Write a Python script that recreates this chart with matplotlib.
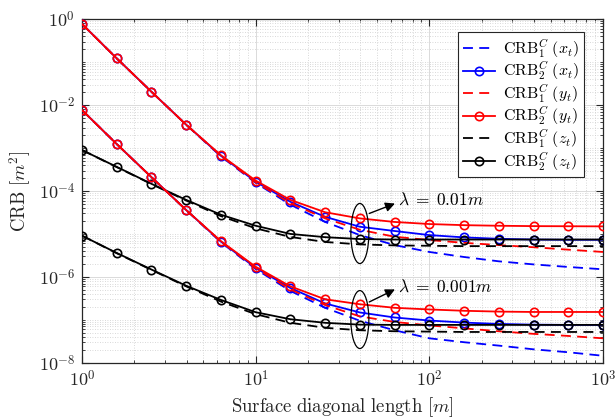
import numpy as np
import matplotlib
matplotlib.use('Agg')
import matplotlib.pyplot as plt
from matplotlib.patches import Ellipse
from matplotlib.ticker import FixedLocator, FixedFormatter, LogLocator, NullFormatter

plt.rcParams['mathtext.fontset'] = 'cm'

# ---------------- data ----------------
L = [1.0, 1.585, 2.512, 3.981, 6.310, 10.0, 15.85, 25.12, 39.81, 63.10,
     100.0, 158.5, 251.2, 398.1, 631.0, 1000.0]

# lambda = 0.01 m
crb1_x_a = [0.78, 0.123, 0.0205, 3.5e-3, 6.4e-4, 1.55e-4, 4.8e-5, 1.9e-5, 9.4e-6, 5.5e-6,
            3.8e-6, 2.9e-6, 2.3e-6, 1.95e-6, 1.7e-6, 1.5e-6]
crb2_x_a = [0.78, 0.123, 0.0205, 3.5e-3, 6.6e-4, 1.65e-4, 5.6e-5, 2.5e-5, 1.47e-5, 1.17e-5,
            9.4e-6, 8.3e-6, 7.7e-6, 7.4e-6, 7.3e-6, 7.3e-6]
crb1_y_a = [0.78, 0.123, 0.0205, 3.5e-3, 6.6e-4, 1.6e-4, 5.2e-5, 2.3e-5, 1.25e-5, 8.6e-6,
            7.2e-6, 6.2e-6, 5.5e-6, 4.9e-6, 4.3e-6, 3.8e-6]
crb2_y_a = [0.78, 0.123, 0.0205, 3.5e-3, 6.8e-4, 1.75e-4, 6.2e-5, 3.2e-5, 2.3e-5, 1.9e-5,
            1.7e-5, 1.6e-5, 1.55e-5, 1.52e-5, 1.51e-5, 1.5e-5]
crb1_z_a = [9.0e-4, 3.6e-4, 1.45e-4, 6.0e-5, 2.6e-5, 1.35e-5, 8.5e-6, 6.5e-6, 5.7e-6, 5.4e-6,
            5.3e-6, 5.2e-6, 5.2e-6, 5.2e-6, 5.2e-6, 5.2e-6]
crb2_z_a = [9.0e-4, 3.65e-4, 1.47e-4, 6.2e-5, 2.8e-5, 1.55e-5, 1.0e-5, 8.4e-6, 7.6e-6, 7.4e-6,
            7.4e-6, 7.4e-6, 7.4e-6, 7.4e-6, 7.4e-6, 7.4e-6]

# lambda = 0.001 m
crb1_x_b = [7.7e-3, 1.24e-3, 2.1e-4, 3.6e-5, 6.4e-6, 1.52e-6, 4.7e-7, 1.9e-7, 9.5e-8, 5.7e-8,
            3.7e-8, 3.0e-8, 2.5e-8, 2.05e-8, 1.75e-8, 1.45e-8]
crb2_x_b = [7.7e-3, 1.24e-3, 2.1e-4, 3.6e-5, 6.6e-6, 1.62e-6, 5.5e-7, 2.4e-7, 1.48e-7, 1.13e-7,
            9.6e-8, 8.6e-8, 8.0e-8, 7.7e-8, 7.6e-8, 7.6e-8]
crb1_y_b = [7.7e-3, 1.24e-3, 2.1e-4, 3.6e-5, 6.6e-6, 1.6e-6, 5.1e-7, 2.2e-7, 1.2e-7, 8.9e-8,
            7.4e-8, 6.3e-8, 5.4e-8, 4.7e-8, 4.2e-8, 3.7e-8]
crb2_y_b = [7.7e-3, 1.24e-3, 2.1e-4, 3.6e-5, 6.8e-6, 1.72e-6, 6.0e-7, 3.0e-7, 2.3e-7, 1.9e-7,
            1.74e-7, 1.62e-7, 1.55e-7, 1.52e-7, 1.52e-7, 1.52e-7]
crb1_z_b = [9.1e-6, 3.55e-6, 1.45e-6, 6.0e-7, 2.65e-7, 1.35e-7, 8.5e-8, 6.5e-8, 5.7e-8, 5.4e-8,
            5.3e-8, 5.2e-8, 5.2e-8, 5.2e-8, 5.2e-8, 5.2e-8]
crb2_z_b = [9.1e-6, 3.6e-6, 1.48e-6, 6.2e-7, 2.9e-7, 1.5e-7, 1.03e-7, 8.5e-8, 7.7e-8, 7.6e-8,
            7.6e-8, 7.6e-8, 7.6e-8, 7.6e-8, 7.6e-8, 7.6e-8]

legend_labels = [r'$\mathrm{CRB}_1^C\ (x_t)$', r'$\mathrm{CRB}_2^C\ (x_t)$',
                 r'$\mathrm{CRB}_1^C\ (y_t)$', r'$\mathrm{CRB}_2^C\ (y_t)$',
                 r'$\mathrm{CRB}_1^C\ (z_t)$', r'$\mathrm{CRB}_2^C\ (z_t)$']

xticks = [1, 10, 100, 1000]
xtick_labels = [r'$10^{0}$', r'$10^{1}$', r'$10^{2}$', r'$10^{3}$']
yticks = [1e-8, 1e-6, 1e-4, 1e-2, 1e0]
ytick_labels = [r'$10^{-8}$', r'$10^{-6}$', r'$10^{-4}$', r'$10^{-2}$', r'$10^{0}$']

ann_texts = [r'$\lambda\;=\;0.01m$', r'$\lambda\;=\;0.001m$']
ann_text_pos = [(66.0, 6.4e-5), (66.0, 6.0e-7)]
ann_arrow_start = [(45.1, 3.0e-5), (45.1, 2.6e-7)]
ann_arrow_end = [(63.4, 5.1e-5), (63.4, 5.1e-7)]
ellipse_x = 39.81
ellipse_y_ranges = [(10 ** -5.69, 10 ** -4.29), (10 ** -7.67, 10 ** -6.32)]

# ---------------- figure ----------------
fig = plt.figure(figsize=(6.16, 4.18), dpi=100)
ax = fig.add_axes([0.1331, 0.1323, 0.8458, 0.8215])
ax.set_xscale('log')
ax.set_yscale('log')
ax.set_xlim(1, 1000)
ax.set_ylim(1e-8, 1)

lw = 1.3
ms = 6
dash = (5.5, 3.5)
blue, red, black = (0, 0, 1), (1, 0, 0), (0, 0, 0)

sets = [
    (crb1_x_a, crb2_x_a, crb1_y_a, crb2_y_a, crb1_z_a, crb2_z_a),
    (crb1_x_b, crb2_x_b, crb1_y_b, crb2_y_b, crb1_z_b, crb2_z_b),
]
handles = None
for s in sets:
    h = []
    for (vals, col, solid) in zip(s, [blue, blue, red, red, black, black],
                                   [False, True, False, True, False, True]):
        if solid:
            ln, = ax.plot(L, vals, '-', color=col, lw=lw, marker='o', ms=ms,
                          mfc='none', mec=col, mew=1.2, zorder=3)
        else:
            ln, = ax.plot(L, vals, '--', color=col, lw=lw, dashes=dash, zorder=3)
        h.append(ln)
    if handles is None:
        handles = h

# ticks / grid
ax.xaxis.set_major_locator(FixedLocator(xticks))
ax.xaxis.set_major_formatter(FixedFormatter(xtick_labels))
ax.yaxis.set_major_locator(FixedLocator(yticks))
ax.yaxis.set_major_formatter(FixedFormatter(ytick_labels))
ax.xaxis.set_minor_locator(LogLocator(base=10, subs=np.arange(1, 10), numticks=100))
ax.yaxis.set_minor_locator(LogLocator(base=10, subs=np.arange(1, 10), numticks=100))
ax.xaxis.set_minor_formatter(NullFormatter())
ax.yaxis.set_minor_formatter(NullFormatter())
ax.tick_params(which='both', direction='in', top=True, right=True, colors='#262626',
               labelcolor='#262626')
ax.tick_params(which='major', length=5, width=0.8, labelsize=13, pad=5)
ax.tick_params(which='minor', length=2.5, width=0.6)
ax.grid(which='major', color='#dadada', lw=0.7, ls='-', zorder=0)
ax.grid(which='minor', color='#cccccc', lw=0.6, ls=(0, (1, 2)), zorder=0)
for sp in ax.spines.values():
    sp.set_color('#262626')
    sp.set_linewidth(0.9)

ax.set_xlabel(r'$\mathrm{Surface\ diagonal\ length}\ [m]$', fontsize=13.5, color='#262626',
              labelpad=4)
ax.set_ylabel(r'$\mathrm{CRB}\ [m^2]$', fontsize=13.5, color='#262626', labelpad=4)

# legend
leg = ax.legend(handles, legend_labels, loc='upper right', bbox_to_anchor=(0.9635, 0.962),
                fontsize=11.5, fancybox=False, framealpha=1, edgecolor='#262626',
                handlelength=2.0, handletextpad=0.5, labelspacing=0.0, borderpad=0.3,
                borderaxespad=0.0)
leg.get_frame().set_linewidth(0.8)

# annotations: ellipses + arrows + texts
fig.canvas.draw()
to_axes = ax.transAxes.inverted()
for (ylo, yhi) in ellipse_y_ranges:
    p_lo = to_axes.transform(ax.transData.transform((ellipse_x, ylo)))
    p_hi = to_axes.transform(ax.transData.transform((ellipse_x, yhi)))
    e = Ellipse(((p_lo[0] + p_hi[0]) / 2, (p_lo[1] + p_hi[1]) / 2), width=18 / 521,
                height=p_hi[1] - p_lo[1], transform=ax.transAxes, fill=False,
                edgecolor='k', lw=0.9, zorder=5)
    ax.add_patch(e)

for txt, tp, a0, a1 in zip(ann_texts, ann_text_pos, ann_arrow_start, ann_arrow_end):
    ax.annotate('', xy=a1, xytext=a0, arrowprops=dict(arrowstyle='-|>', color='k', lw=1.0,
                                                      mutation_scale=14, shrinkA=0, shrinkB=0),
                zorder=6)
    ax.text(tp[0], tp[1], txt, fontsize=12.5, ha='left', va='center', color='k', zorder=6)

fig.savefig('out.png', dpi=100)
